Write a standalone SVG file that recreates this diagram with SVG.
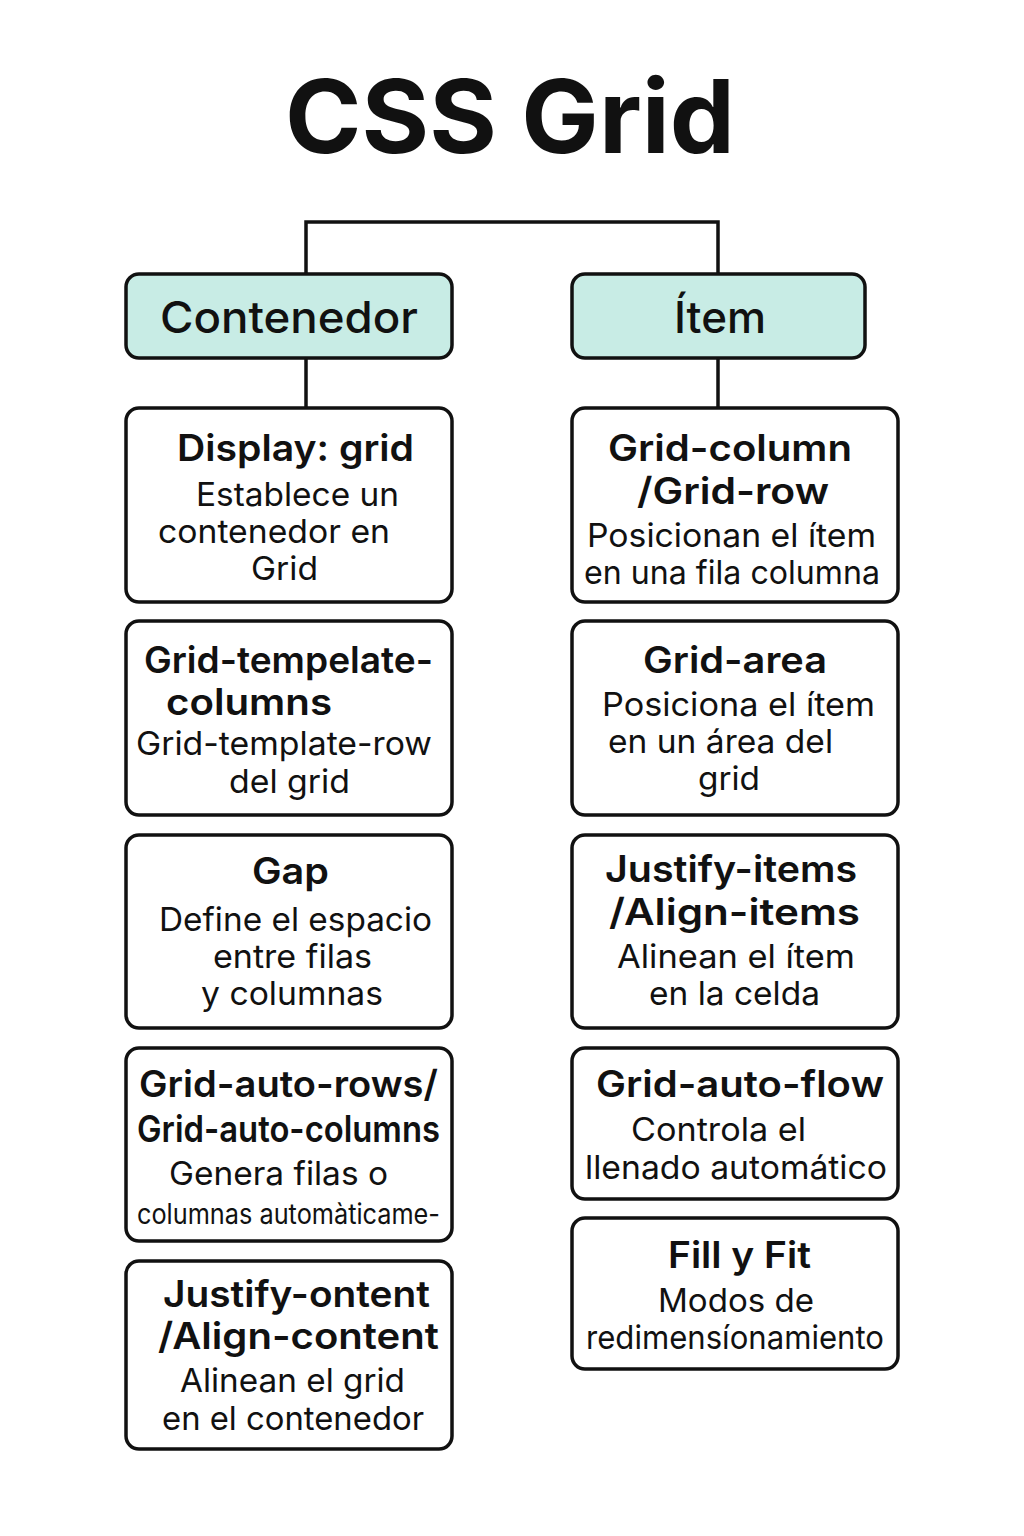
<svg xmlns="http://www.w3.org/2000/svg" width="1024" height="1536" viewBox="0 0 1024 1536">
  <defs>
    <style>
      .bg { fill: #ffffff; }
      .head { fill: #c8ece5; stroke: #111111; stroke-width: 3.5; }
      .box { fill: #ffffff; stroke: #111111; stroke-width: 3.5; }
      .wire { fill: none; stroke: #111111; stroke-width: 3.5; }
      text { font-family: Inter, "Liberation Sans", sans-serif; fill: #111111; }
      .title { font-size: 102px; font-weight: 700; }
      .htxt { font-size: 44px; font-weight: 500; }
      .t { font-size: 37px; font-weight: 600; }
      .d { font-size: 33px; font-weight: 400; }
      .s { font-size: 28px; font-weight: 400; }
    </style>
  </defs>
  <rect class="bg" x="0" y="0" width="1024" height="1536"/>

  <text class="title" x="285" y="153" textLength="450" lengthAdjust="spacingAndGlyphs">CSS Grid</text>

  <!-- connectors -->
  <g id="connectors">
    <path class="wire" d="M306 274 V222 H718 V274"/>
    <path class="wire" d="M306 358 V408"/>
    <path class="wire" d="M718 358 V408"/>
  </g>

  <!-- column headers -->
  <g id="contenedor">
    <rect class="head" x="126" y="274" width="326" height="84" rx="13"/>
    <text class="htxt" x="160" y="333" textLength="258" lengthAdjust="spacingAndGlyphs">Contenedor</text>
  </g>
  <g id="item">
    <rect class="head" x="572" y="274" width="293" height="84" rx="13"/>
    <text class="htxt" x="674" y="333" textLength="92" lengthAdjust="spacingAndGlyphs">Ítem</text>
  </g>

  <!-- container properties -->
  <g id="display-grid">
    <rect class="box" x="126" y="408" width="326" height="194" rx="13"/>
    <text class="t" x="177" y="461" textLength="237" lengthAdjust="spacingAndGlyphs">Display: grid</text>
    <text class="d" x="196" y="506" textLength="203" lengthAdjust="spacingAndGlyphs">Establece un</text>
    <text class="d" x="158" y="543" textLength="232" lengthAdjust="spacingAndGlyphs">contenedor en</text>
    <text class="d" x="251" y="580" textLength="67" lengthAdjust="spacingAndGlyphs">Grid</text>
  </g>
  <g id="template-columns">
    <rect class="box" x="126" y="621" width="326" height="194" rx="13"/>
    <text class="t" x="144" y="673" textLength="289" lengthAdjust="spacingAndGlyphs">Grid-tempelate-</text>
    <text class="t" x="166" y="715" textLength="166" lengthAdjust="spacingAndGlyphs">columns</text>
    <text class="d" x="136" y="755" textLength="296" lengthAdjust="spacingAndGlyphs">Grid-template-row</text>
    <text class="d" x="229" y="793" textLength="121" lengthAdjust="spacingAndGlyphs">del grid</text>
  </g>
  <g id="gap">
    <rect class="box" x="126" y="835" width="326" height="193" rx="13"/>
    <text class="t" x="252" y="884" textLength="77" lengthAdjust="spacingAndGlyphs">Gap</text>
    <text class="d" x="159" y="931" textLength="273" lengthAdjust="spacingAndGlyphs">Define el espacio</text>
    <text class="d" x="213" y="968" textLength="159" lengthAdjust="spacingAndGlyphs">entre filas</text>
    <text class="d" x="201" y="1005" textLength="182" lengthAdjust="spacingAndGlyphs">y columnas</text>
  </g>
  <g id="auto-rows">
    <rect class="box" x="126" y="1048" width="326" height="193" rx="13"/>
    <text class="t" x="139" y="1097" textLength="299" lengthAdjust="spacingAndGlyphs">Grid-auto-rows/</text>
    <text class="t" x="137" y="1142" textLength="303" lengthAdjust="spacingAndGlyphs">Grid-auto-columns</text>
    <text class="d" x="169" y="1185" textLength="219" lengthAdjust="spacingAndGlyphs">Genera filas o</text>
    <text class="s" x="137" y="1224" textLength="303" lengthAdjust="spacingAndGlyphs">columnas automàticame-</text>
  </g>
  <g id="justify-content">
    <rect class="box" x="126" y="1261" width="326" height="188" rx="13"/>
    <text class="t" x="163" y="1307" textLength="267" lengthAdjust="spacingAndGlyphs">Justify-ontent</text>
    <text class="t" x="158" y="1349" textLength="281" lengthAdjust="spacingAndGlyphs">/Align-content</text>
    <text class="d" x="180" y="1392" textLength="225" lengthAdjust="spacingAndGlyphs">Alinean el grid</text>
    <text class="d" x="162" y="1430" textLength="262" lengthAdjust="spacingAndGlyphs">en el contenedor</text>
  </g>

  <!-- item properties -->
  <g id="grid-column-row">
    <rect class="box" x="572" y="408" width="326" height="194" rx="13"/>
    <text class="t" x="608" y="461" textLength="244" lengthAdjust="spacingAndGlyphs">Grid-column</text>
    <text class="t" x="637" y="504" textLength="192" lengthAdjust="spacingAndGlyphs">/Grid-row</text>
    <text class="d" x="587" y="547" textLength="289" lengthAdjust="spacingAndGlyphs">Posicionan el ítem</text>
    <text class="d" x="584" y="584" textLength="296" lengthAdjust="spacingAndGlyphs">en una fila columna</text>
  </g>
  <g id="grid-area">
    <rect class="box" x="572" y="621" width="326" height="194" rx="13"/>
    <text class="t" x="643" y="673" textLength="184" lengthAdjust="spacingAndGlyphs">Grid-area</text>
    <text class="d" x="602" y="716" textLength="273" lengthAdjust="spacingAndGlyphs">Posiciona el ítem</text>
    <text class="d" x="608" y="753" textLength="225" lengthAdjust="spacingAndGlyphs">en un área del</text>
    <text class="d" x="698" y="790" textLength="62" lengthAdjust="spacingAndGlyphs">grid</text>
  </g>
  <g id="justify-items">
    <rect class="box" x="572" y="835" width="326" height="193" rx="13"/>
    <text class="t" x="605" y="882" textLength="252" lengthAdjust="spacingAndGlyphs">Justify-items</text>
    <text class="t" x="609" y="925" textLength="251" lengthAdjust="spacingAndGlyphs">/Align-items</text>
    <text class="d" x="617" y="968" textLength="238" lengthAdjust="spacingAndGlyphs">Alinean el ítem</text>
    <text class="d" x="649" y="1005" textLength="171" lengthAdjust="spacingAndGlyphs">en la celda</text>
  </g>
  <g id="auto-flow">
    <rect class="box" x="572" y="1048" width="326" height="151" rx="13"/>
    <text class="t" x="596" y="1097" textLength="288" lengthAdjust="spacingAndGlyphs">Grid-auto-flow</text>
    <text class="d" x="631" y="1141" textLength="175" lengthAdjust="spacingAndGlyphs">Controla el</text>
    <text class="d" x="585" y="1179" textLength="302" lengthAdjust="spacingAndGlyphs">llenado automático</text>
  </g>
  <g id="fill-fit">
    <rect class="box" x="572" y="1218" width="326" height="151" rx="13"/>
    <text class="t" x="668" y="1268" textLength="143" lengthAdjust="spacingAndGlyphs">Fill y Fit</text>
    <text class="d" x="658" y="1312" textLength="156" lengthAdjust="spacingAndGlyphs">Modos de</text>
    <text class="d" x="586" y="1349" textLength="298" lengthAdjust="spacingAndGlyphs">redimensíonamiento</text>
  </g>
</svg>
